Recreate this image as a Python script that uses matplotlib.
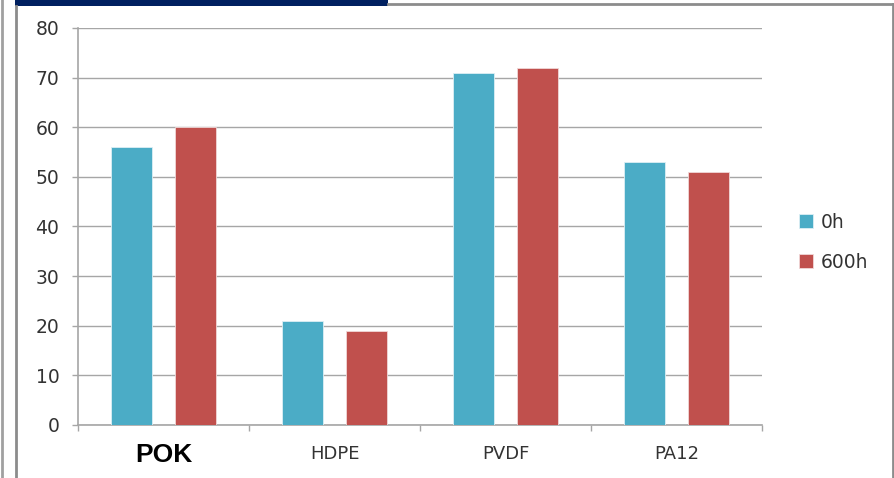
import numpy as np
import matplotlib.pyplot as plt
from matplotlib.lines import Line2D
from matplotlib.patches import Rectangle

categories = ['POK', 'HDPE', 'PVDF', 'PA12']
series_names = ['0h', '600h']
values_0h = [56, 21, 71, 53]
values_600h = [60, 19, 72, 51]
yticks = [0, 10, 20, 30, 40, 50, 60, 70, 80]

blue = '#4BACC6'
red = '#C0504D'
grid_gray = '#A6A6A6'
text_gray = '#333333'

W, H = 895, 478
fig = plt.figure(figsize=(W / 100, H / 100), dpi=100)
fig.patch.set_facecolor('white')

# slide frame pieces around the chart
def px_line(x0, y0, x1, y1, color='#8C8C8C', lw=2.0):
    fig.add_artist(Line2D([x0 / W, x1 / W], [1 - y0 / H, 1 - y1 / H],
                          transform=fig.transFigure, color=color, lw=lw))

fig.add_artist(Rectangle((15 / W, 1 - 6 / H), (388 - 15) / W, 6 / H,
                         transform=fig.transFigure, color='#002060', lw=0))
px_line(388, 4, 893, 4)
px_line(893, 4, 893, 478)
px_line(2, 0, 2, 478, color='#A0A0A0')
px_line(16, 6, 16, 478, color='#8C8C8C')

ax = fig.add_axes([78 / W, 1 - 425 / H, (762 - 78) / W, (425 - 28) / H])

x = np.arange(len(categories))
bw = 0.245
off = 0.187
ax.bar(x - off, values_0h, bw, color=blue, edgecolor='#DDEFF4', lw=0.6,
       label=series_names[0], zorder=3)
ax.bar(x + off, values_600h, bw, color=red, edgecolor='#F0D8D8', lw=0.6,
       label=series_names[1], zorder=3)

ax.set_xlim(-0.5, len(categories) - 0.5)
ax.set_ylim(0, 80)
ax.set_yticks(yticks)
ax.set_yticklabels([str(v) for v in yticks], fontsize=13.5, family='DejaVu Sans',
                   color=text_gray)
ax.yaxis.grid(True, color=grid_gray, lw=1.0, zorder=0)
ax.set_axisbelow(True)

# category boundary ticks below the axis
ax.set_xticks(np.arange(-0.5, len(categories) + 0.5, 1.0), minor=False)
ax.set_xticklabels([])
ax.set_xticks(x, minor=True)
ax.set_xticklabels(categories, minor=True)
ax.tick_params(axis='x', which='major', length=4.5, width=1, color=grid_gray, direction='out')
ax.tick_params(axis='x', which='minor', length=0, pad=19.5)
ax.tick_params(axis='y', length=4.5, width=1, color=grid_gray, pad=9)
for i, lab in enumerate(ax.get_xticklabels(minor=True)):
    lab.set_verticalalignment('center_baseline')
    if i == 0:
        lab.set_fontsize(19)
        lab.set_fontweight('bold')
        lab.set_family('Liberation Sans')
        lab.set_color('black')
    else:
        lab.set_fontsize(13)
        lab.set_family('DejaVu Sans')
        lab.set_color(text_gray)

for side in ['top', 'right']:
    ax.spines[side].set_visible(False)
for side in ['left', 'bottom']:
    ax.spines[side].set_color(grid_gray)
    ax.spines[side].set_linewidth(1.2)

leg = fig.legend(loc='upper left', bbox_to_anchor=(782 / W, 1 - 196 / H),
                 frameon=False, handlelength=0.75, handleheight=0.75,
                 handletextpad=0.4, labelspacing=1.1,
                 prop={'family': 'DejaVu Sans', 'size': 13.5})
for t in leg.get_texts():
    t.set_color(text_gray)

fig.savefig('out.png', dpi=100)
